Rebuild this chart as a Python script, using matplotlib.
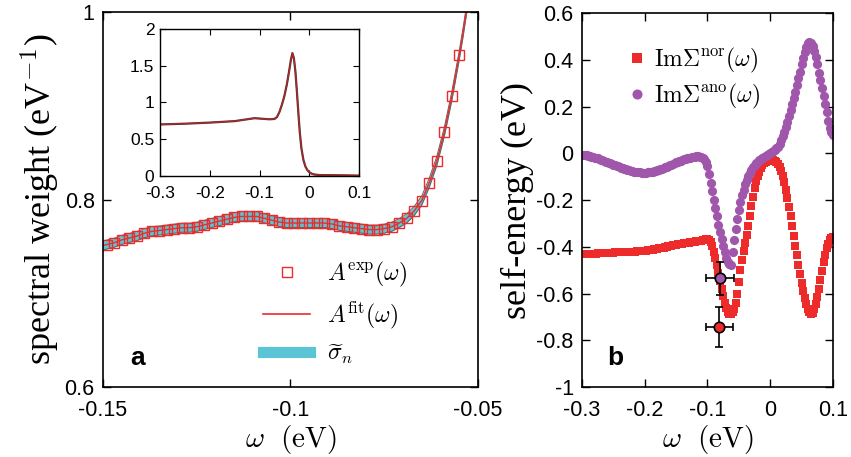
import numpy as np
import matplotlib.pyplot as plt
from matplotlib.lines import Line2D

plt.rcParams['font.family'] = 'Liberation Sans'
plt.rcParams['mathtext.fontset'] = 'cm'

### panel a : spectral weight near the gap edge
w_exp = [-0.149, -0.147, -0.145, -0.143, -0.141, -0.139, -0.137, -0.135, -0.133, -0.131,
         -0.129, -0.127, -0.125, -0.123, -0.121, -0.119, -0.117, -0.115, -0.113, -0.111,
         -0.109, -0.107, -0.105, -0.103, -0.101, -0.099, -0.097, -0.095, -0.093, -0.091,
         -0.089, -0.087, -0.085, -0.083, -0.081, -0.079, -0.077, -0.075, -0.073, -0.071,
         -0.069, -0.067, -0.065, -0.063, -0.061, -0.059, -0.057, -0.055]
A_exp = [0.752, 0.754, 0.757, 0.759, 0.761, 0.764, 0.766, 0.767, 0.768, 0.769,
         0.770, 0.770, 0.771, 0.773, 0.775, 0.777, 0.779, 0.781, 0.782, 0.782,
         0.782, 0.780, 0.778, 0.776, 0.775, 0.775, 0.775, 0.775, 0.775, 0.775,
         0.774, 0.772, 0.771, 0.770, 0.769, 0.768, 0.768, 0.769, 0.771, 0.775,
         0.780, 0.788, 0.799, 0.818, 0.841, 0.872, 0.910, 0.954]

w_fit = [-0.151] + w_exp + [-0.054, -0.053, -0.052]
A_fit = [0.750] + A_exp + [0.978, 1.004, 1.03]
sigma_n = 0.0048

### inset : full spectral function
w_ins = [-0.3, -0.25, -0.2, -0.15, -0.12, -0.11, -0.1, -0.09, -0.08, -0.07, -0.065, -0.06,
         -0.055, -0.05, -0.045, -0.04, -0.037, -0.034, -0.031, -0.028, -0.025, -0.022,
         -0.019, -0.016, -0.012, -0.008, -0.004, 0.0, 0.005, 0.01, 0.02, 0.05, 0.1]
A_ins = [0.70, 0.71, 0.725, 0.745, 0.775, 0.785, 0.78, 0.775, 0.77, 0.775, 0.80, 0.87,
         0.97, 1.09, 1.25, 1.45, 1.58, 1.67, 1.60, 1.42, 1.15, 0.85,
         0.58, 0.38, 0.22, 0.13, 0.08, 0.05, 0.03, 0.02, 0.012, 0.01, 0.005]

### panel b : self-energies, omega from -0.3 to 0.1 every 0.0025 eV
w_se = [-0.3 + 0.0025 * k for k in range(161)]
im_nor = [
    -0.432, -0.432, -0.431, -0.431, -0.430, -0.430, -0.430, -0.429, -0.429, -0.429,
    -0.428, -0.428, -0.428, -0.427, -0.427, -0.426, -0.426, -0.426, -0.425, -0.425,
    -0.425, -0.424, -0.424, -0.424, -0.424, -0.423, -0.423, -0.423, -0.422, -0.422,
    -0.422, -0.421, -0.421, -0.420, -0.420, -0.419, -0.419, -0.418, -0.418, -0.417,
    -0.417, -0.416, -0.415, -0.414, -0.413, -0.412, -0.411, -0.410, -0.409, -0.407,
    -0.406, -0.404, -0.403, -0.401, -0.400, -0.398, -0.397, -0.395, -0.394, -0.392,
    -0.391, -0.390, -0.388, -0.387, -0.386, -0.385, -0.384, -0.383, -0.382, -0.381,
    -0.380, -0.379, -0.378, -0.377, -0.376, -0.375, -0.373, -0.372, -0.370, -0.368,
    -0.366, -0.370, -0.380, -0.397, -0.420, -0.447, -0.477, -0.510, -0.545, -0.580,
    -0.612, -0.640, -0.662, -0.678, -0.686, -0.688, -0.678, -0.664, -0.640, -0.600,
    -0.552, -0.500, -0.455, -0.418, -0.385, -0.350, -0.310, -0.268, -0.225, -0.185,
    -0.150, -0.120, -0.097, -0.078, -0.063, -0.052, -0.043, -0.037, -0.032, -0.029,
    -0.027, -0.026, -0.028, -0.031, -0.037, -0.046, -0.058, -0.075, -0.097, -0.124,
    -0.155, -0.190, -0.228, -0.268, -0.310, -0.352, -0.395, -0.437, -0.478, -0.517,
    -0.554, -0.588, -0.619, -0.645, -0.666, -0.680, -0.687, -0.683, -0.668, -0.645,
    -0.615, -0.580, -0.542, -0.503, -0.466, -0.433, -0.406, -0.386, -0.372, -0.364,
    -0.360]
im_ano = [
    -0.006, -0.007, -0.008, -0.009, -0.011, -0.012, -0.014, -0.016, -0.018, -0.020,
    -0.022, -0.025, -0.027, -0.030, -0.032, -0.035, -0.037, -0.040, -0.043, -0.045,
    -0.048, -0.050, -0.053, -0.056, -0.058, -0.061, -0.063, -0.066, -0.068, -0.070,
    -0.072, -0.074, -0.076, -0.078, -0.079, -0.080, -0.081, -0.082, -0.083, -0.083,
    -0.083, -0.083, -0.082, -0.081, -0.080, -0.079, -0.077, -0.075, -0.073, -0.071,
    -0.068, -0.066, -0.063, -0.060, -0.057, -0.054, -0.051, -0.048, -0.045, -0.042,
    -0.039, -0.036, -0.034, -0.031, -0.029, -0.026, -0.024, -0.022, -0.020, -0.018,
    -0.017, -0.015, -0.014, -0.013, -0.013, -0.014, -0.016, -0.020, -0.025, -0.036,
    -0.055, -0.090, -0.125, -0.162, -0.199, -0.235, -0.270, -0.305, -0.337, -0.367,
    -0.397, -0.424, -0.447, -0.464, -0.474, -0.477, -0.420, -0.370, -0.323, -0.280,
    -0.243, -0.210, -0.180, -0.155, -0.133, -0.114, -0.098, -0.084, -0.071, -0.060,
    -0.051, -0.043, -0.036, -0.030, -0.025, -0.020, -0.015, -0.010, -0.006, -0.002,
    0.002, 0.006, 0.010, 0.015, 0.021, 0.029, 0.040, 0.055, 0.072, 0.091,
    0.112, 0.135, 0.159, 0.184, 0.210, 0.237, 0.264, 0.292, 0.321, 0.350,
    0.380, 0.408, 0.435, 0.456, 0.470, 0.476, 0.472, 0.458, 0.437, 0.410,
    0.380, 0.345, 0.315, 0.280, 0.245, 0.210, 0.175, 0.140, 0.110, 0.090,
    0.078]

### error bar estimates
w_err = [-0.08, -0.081]
se_err = [-0.535, -0.742]
w_xerr = [0.022, 0.021]
se_yerr = [0.07, 0.086]

red = '#ee2b2b'
purple = '#a057ab'
cyan = '#5bc5d5'

fig = plt.figure(figsize=(8.51, 4.57), dpi=100)

def style(ax, size):
    ax.tick_params(direction='in', top=True, right=True, length=6, width=1, labelsize=size, pad=6)
    ax.tick_params(axis='x', pad=9)
    for s in ax.spines.values():
        s.set_linewidth(1.2)

######## panel a
ax1 = fig.add_axes([0.121, 0.153, 0.4407, 0.8206])
w_fit_a = np.array(w_fit)
A_fit_a = np.array(A_fit)
ax1.fill_between(w_fit_a, A_fit_a - sigma_n, A_fit_a + sigma_n, color=cyan, lw=0)
ax1.plot(w_fit_a, A_fit_a - sigma_n, color='#606060', lw=0.7)
ax1.plot(w_fit_a, A_fit_a + sigma_n, color='#606060', lw=0.7)
ax1.plot(w_fit, A_fit, color=red, lw=1.0)
ax1.plot(w_exp, A_exp, 's', mfc='none', mec=red, ms=6.5, mew=1.0)
ax1.set_xlim(-0.15, -0.05)
ax1.set_ylim(0.6, 1.0)
ax1.set_xticks([-0.15, -0.1, -0.05])
ax1.set_xticklabels(['-0.15', '-0.1', '-0.05'])
ax1.set_yticks([0.6, 0.8, 1.0])
ax1.set_yticklabels(['0.6', '0.8', '1'])
style(ax1, 15.5)
ax1.set_xlabel(r'$\omega\ \ \mathrm{(eV)}$', fontsize=21, labelpad=2)
ax1.set_ylabel(r'spectral weight (eV$^{\mathsf{-1}}$)', fontsize=26, family='Liberation Serif', labelpad=2)
ax1.text(0.073, 0.06, 'a', transform=ax1.transAxes, fontsize=19, fontweight='bold')

h1 = [Line2D([], [], ls='none', marker='s', mfc='none', mec=red, ms=6.5),
      Line2D([], [], color=red, lw=1.2),
      Line2D([], [], color=cyan, lw=8)]
ax1.legend(h1, [r'$A^{\rm exp}(\omega)$', r'$A^{\rm fit}(\omega)$', r'$\widetilde{\sigma}_n$'],
           loc='lower left', bbox_to_anchor=(0.37, 0.0), frameon=False, fontsize=17,
           handlelength=2.0, handletextpad=0.7, labelspacing=0.45)

### inset
ins = fig.add_axes([0.188, 0.615, 0.234, 0.322])
ins.plot(w_ins, A_ins, color='#404040', lw=1.6)
ins.plot(w_ins, A_ins, color='#c02020', lw=0.9)
ins.set_xlim(-0.3, 0.1)
ins.set_ylim(0, 2)
ins.set_xticks([-0.3, -0.2, -0.1, 0, 0.1])
ins.set_xticklabels(['-0.3', '-0.2', '-0.1', '0', '0.1'])
ins.set_yticks([0, 0.5, 1, 1.5, 2])
ins.set_yticklabels(['0', '0.5', '1', '1.5', '2'])
ins.tick_params(direction='in', top=True, right=True, length=4, width=0.8, labelsize=12.5, pad=4)
ins.tick_params(axis='x', pad=7)
for s in ins.spines.values():
    s.set_linewidth(1.0)

######## panel b
ax2 = fig.add_axes([0.6839, 0.153, 0.2949, 0.8184])
ax2.plot(w_se, im_nor, 's', color=red, ms=6.0, mew=0, label=r'$\mathrm{Im}\Sigma^{\rm nor}(\omega)$')
ax2.plot(w_se, im_ano, 'o', color=purple, ms=6.6, mew=0, label=r'$\mathrm{Im}\Sigma^{\rm ano}(\omega)$')
ax2.errorbar(w_err[0], se_err[0], xerr=w_xerr[0], yerr=se_yerr[0], fmt='o', mfc=purple, mec='black',
             ms=7.5, mew=1.2, ecolor='black', elinewidth=1.2, capsize=3, capthick=1.2)
ax2.errorbar(w_err[1], se_err[1], xerr=w_xerr[1], yerr=se_yerr[1], fmt='o', mfc=red, mec='black',
             ms=7.5, mew=1.2, ecolor='black', elinewidth=1.2, capsize=3, capthick=1.2)
ax2.set_xlim(-0.3, 0.1)
ax2.set_ylim(-1, 0.6)
ax2.set_xticks([-0.3, -0.2, -0.1, 0, 0.1])
ax2.set_xticklabels(['-0.3', '-0.2', '-0.1', '0', '0.1'])
ax2.set_yticks([-1, -0.8, -0.6, -0.4, -0.2, 0, 0.2, 0.4, 0.6])
ax2.set_yticklabels(['-1', '-0.8', '-0.6', '-0.4', '-0.2', '0', '0.2', '0.4', '0.6'])
style(ax2, 15.5)
ax2.set_xlabel(r'$\omega\ \ \mathrm{(eV)}$', fontsize=21, labelpad=2)
ax2.set_ylabel('self-energy (eV)', fontsize=26, family='Liberation Serif', labelpad=2)
ax2.text(0.10, 0.06, 'b', transform=ax2.transAxes, fontsize=19, fontweight='bold')
ax2.legend(loc='upper left', bbox_to_anchor=(0.1, 0.97), frameon=False, fontsize=17,
           handlelength=0.7, handletextpad=0.4, labelspacing=0.3, markerscale=1.1)

plt.savefig('out.png', dpi=100)
